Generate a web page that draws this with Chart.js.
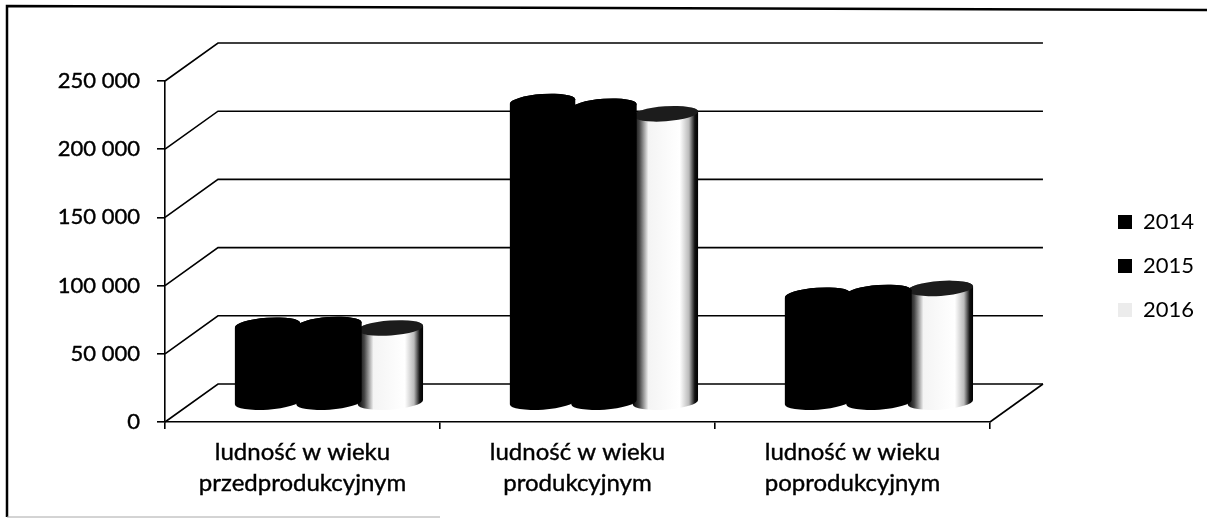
<!DOCTYPE html>
<html>
<head>
<meta charset="utf-8">
<script src="https://cdn.jsdelivr.net/npm/chart.js@4"></script>
<style>
html, body { margin: 0; padding: 0; background: #fff; }
#wrap { position: relative; width: 1207px; height: 518px; }
</style>
</head>
<body>
<div id="wrap"><canvas id="myChart" width="1207" height="518"></canvas></div>
<script>
var categories = [
    ["ludność w wieku", "przedprodukcyjnym"],
    ["ludność w wieku", "produkcyjnym"],
    ["ludność w wieku", "poprodukcyjnym"]
];
var seriesNames = ["2014", "2015", "2016"];
var values2014 = [57000, 221000, 79000];
var values2015 = [57500, 217500, 81000];
var values2016 = [55000, 212000, 84000];
var seriesColors = ["#000000", "#000000", "#ececec"];
var yTicks = [0, 50000, 100000, 150000, 200000, 250000];

var depthX = 53, depthY = 38;

// paper frame of the scanned chart
var framePlugin = {
    id: "frame",
    beforeDraw: function (chart) {
        var ctx = chart.ctx;
        ctx.save();
        ctx.fillStyle = "#fff";
        ctx.fillRect(0, 0, chart.width, chart.height);
        ctx.strokeStyle = "#000";
        ctx.lineWidth = 2.5;
        ctx.beginPath();
        ctx.moveTo(7, 517);
        ctx.lineTo(7, 6);
        ctx.lineTo(1207, 10);
        ctx.stroke();
        ctx.strokeStyle = "#a8a8a8";
        ctx.lineWidth = 1;
        ctx.beginPath();
        ctx.moveTo(7, 517);
        ctx.lineTo(440, 517);
        ctx.stroke();
        ctx.restore();
    }
};

// side wall and back wall lines, taken from the scale
var wallPlugin = {
    id: "walls",
    beforeDatasetsDraw: function (chart) {
        var ctx = chart.ctx, area = chart.chartArea, y = chart.scales.y;
        ctx.save();
        ctx.strokeStyle = "#000";
        ctx.lineWidth = 1.6;
        yTicks.forEach(function (v) {
            var py = y.getPixelForValue(v);
            ctx.beginPath();
            ctx.moveTo(area.left, py);
            ctx.lineTo(area.left + depthX, py - depthY);
            ctx.lineTo(area.right + depthX, py - depthY);
            ctx.stroke();
        });
        var base = y.getPixelForValue(0);
        ctx.beginPath();
        ctx.moveTo(area.right, base);
        ctx.lineTo(area.right + depthX, base - depthY);
        ctx.stroke();
        ctx.restore();
    }
};

function cylinder(ctx, bar, light) {
    var w = bar.width + 4;
    var cx = bar.x + depthX / 2;
    var top = bar.y - depthY / 2;
    var bottom = bar.base - depthY / 2;
    var rx = w / 2, ry = 7.5, tilt = -0.07;
    var lift = Math.sin(tilt) * rx;

    ctx.beginPath();
    ctx.moveTo(cx - rx, top - lift);
    ctx.lineTo(cx - rx, bottom - lift);
    ctx.ellipse(cx, bottom, rx, ry, tilt, Math.PI, 0, true);
    ctx.lineTo(cx + rx, top + lift);
    ctx.ellipse(cx, top, rx, ry, tilt, 0, Math.PI, true);
    ctx.closePath();
    if (light) {
        var g = ctx.createLinearGradient(cx - rx, 0, cx + rx, 0);
        g.addColorStop(0, "#000");
        g.addColorStop(0.1, "#444");
        g.addColorStop(0.24, "#f4f4f4");
        g.addColorStop(0.72, "#fff");
        g.addColorStop(0.86, "#bbb");
        g.addColorStop(0.95, "#111");
        g.addColorStop(1, "#000");
        ctx.fillStyle = g;
    } else {
        ctx.fillStyle = "#000";
    }
    ctx.fill();

    ctx.beginPath();
    ctx.ellipse(cx, top, rx, ry, tilt, 0, Math.PI * 2);
    ctx.fillStyle = light ? "#1c1c1c" : "#000";
    ctx.fill();
}

// replaces the flat bars with cylinders at the same scale positions
var cylinderPlugin = {
    id: "cylinders",
    beforeDatasetDraw: function (chart, args) {
        var ds = chart.data.datasets[args.index];
        var light = ds.backgroundColor !== "#000000";
        args.meta.data.forEach(function (bar) {
            cylinder(chart.ctx, bar, light);
        });
        return false;
    }
};

var legendPlugin = {
    id: "legendShift",
    afterLayout: function (chart) {
        var legend = chart.legend;
        legend.left = 1096;
        legend.right = 1096 + legend.width;
        legend.top = 189;
        legend.bottom = 189 + legend.height;
    }
};

var fontFamily = "Lato, 'Noto Sans', sans-serif";

new Chart(document.getElementById("myChart").getContext("2d"), {
    type: "bar",
    data: {
        labels: categories,
        datasets: [
            { label: seriesNames[0], data: values2014, backgroundColor: seriesColors[0] },
            { label: seriesNames[1], data: values2015, backgroundColor: seriesColors[1] },
            { label: seriesNames[2], data: values2016, backgroundColor: seriesColors[2] }
        ]
    },
    plugins: [framePlugin, wallPlugin, cylinderPlugin, legendPlugin],
    options: {
        responsive: false,
        animation: false,
        categoryPercentage: 0.67,
        barPercentage: 1,
        layout: { padding: { left: 0, right: 109, top: 81, bottom: 6 } },
        plugins: {
            tooltip: { enabled: false },
            legend: {
                position: "right",
                align: "start",
                labels: {
                    color: "#000",
                    boxWidth: 14,
                    boxHeight: 14,
                    padding: 22,
                    font: { family: fontFamily, size: 22 }
                }
            }
        },
        scales: {
            x: {
                afterFit: function (scale) { scale.height = 90; },
                border: { color: "#000", width: 1.6 },
                grid: { drawOnChartArea: false, color: "#000", lineWidth: 1.6, tickLength: 7 },
                ticks: {
                    color: "#000",
                    textStrokeColor: "#000",
                    textStrokeWidth: 0.4,
                    maxRotation: 0,
                    padding: 7,
                    font: { family: fontFamily, size: 24, lineHeight: 1.32 }
                }
            },
            y: {
                min: 0,
                max: 250000,
                afterFit: function (scale) { scale.width = 165; },
                border: { color: "#000", width: 1.6 },
                grid: { drawOnChartArea: false, color: "#000", lineWidth: 1.6, tickLength: 8 },
                ticks: {
                    stepSize: 50000,
                    color: "#000",
                    textStrokeColor: "#000",
                    textStrokeWidth: 0.4,
                    padding: 17,
                    font: { family: fontFamily, size: 22 },
                    callback: function (v) {
                        return String(v).replace(/\B(?=(\d{3})+$)/g, " ");
                    }
                }
            }
        }
    }
});
</script>
</body>
</html>
